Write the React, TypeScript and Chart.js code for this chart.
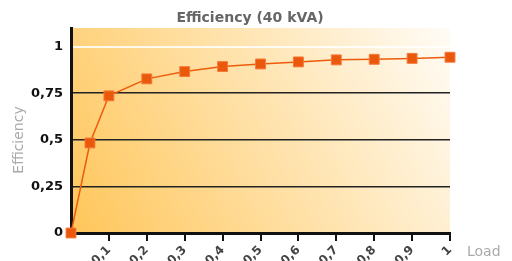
import React, { useEffect, useRef } from "react";
import { Chart, registerables } from "chart.js";

Chart.register(...registerables);

const loads = [0, 0.05, 0.1, 0.2, 0.3, 0.4, 0.5, 0.6, 0.7, 0.8, 0.9, 1.0];
const efficiency = [0, 0.483, 0.736, 0.827, 0.866, 0.893, 0.907, 0.918, 0.929, 0.932, 0.937, 0.943];
const xTickValues = [0, 0.1, 0.2, 0.3, 0.4, 0.5, 0.6, 0.7, 0.8, 0.9, 1.0];
const yTickValues = [0, 0.25, 0.5, 0.75, 1];
const titleText = "Efficiency (40 kVA)";
const xTitle = "Load";
const yTitle = "Efficiency";

const fmt = (v: number) => String(Math.round(v * 100) / 100).replace(".", ",");

const bgPlugin = {
  id: "bg",
  beforeDraw(chart: any) {
    const { ctx, chartArea: a } = chart;
    const g = ctx.createLinearGradient(a.left, a.bottom, a.right, a.top);
    g.addColorStop(0, "#ffc65a");
    g.addColorStop(1, "#fffcf6");
    ctx.save();
    ctx.fillStyle = g;
    ctx.fillRect(a.left, a.top, a.right - a.left, a.bottom - a.top);
    ctx.restore();
  },
  afterDraw(chart: any) {
    const { ctx } = chart;
    ctx.save();
    ctx.fillStyle = "#666";
    ctx.font = "bold 14px 'DejaVu Sans'";
    ctx.textAlign = "center";
    ctx.textBaseline = "middle";
    ctx.fillText(titleText, 250, 18);
    ctx.fillStyle = "#aaa";
    ctx.font = "14px 'DejaVu Sans'";
    ctx.textAlign = "left";
    ctx.fillText(xTitle, 467, 252);
    ctx.translate(19, 140);
    ctx.rotate(-Math.PI / 2);
    ctx.textAlign = "center";
    ctx.fillText(yTitle, 0, 0);
    ctx.restore();
  },
};

export default function App() {
  const ref = useRef<HTMLCanvasElement>(null);
  useEffect(() => {
    document.body.style.margin = "0";
    const chart = new Chart(ref.current!, {
      type: "line",
      data: {
        datasets: [
          {
            data: loads.map((x, i) => ({ x, y: efficiency[i] })),
            borderColor: "#ee5b0c",
            borderWidth: 1.5,
            backgroundColor: "#ea580c",
            pointBorderColor: "#f47a3a",
            pointBorderWidth: 1,
            pointStyle: "rect",
            pointRadius: 7,
            pointHoverRadius: 7,
            clip: false as any,
            tension: 0,
          },
        ],
      },
      options: {
        animation: false,
        responsive: false,
        layout: { padding: { top: 28, right: 62, left: 8, bottom: 0 } },
        plugins: { legend: { display: false }, tooltip: { enabled: false }, title: { display: false } },
        scales: {
          x: {
            type: "linear",
            min: 0,
            max: 1,
            afterBuildTicks: (s: any) => {
              s.ticks = xTickValues.map((v) => ({ value: v }));
            },
            afterFit: (s: any) => {
              s.height = 28;
            },
            border: { display: true, color: "#111", width: 3 },
            grid: {
              display: true,
              drawOnChartArea: false,
              drawTicks: true,
              tickLength: 8,
              tickColor: xTickValues.map((v) => (v === 0 ? "rgba(0,0,0,0)" : "#111")),
              tickWidth: 2,
              color: "#111",
              lineWidth: 2,
            },
            ticks: {
              autoSkip: false,
              maxRotation: 45,
              minRotation: 45,
              padding: 2,
              color: "#444",
              font: { family: "'DejaVu Sans'", size: 12, weight: "bold" },
              callback: (v: any) => (v === 0 ? "" : fmt(Number(v))),
            },
          },
          y: {
            min: 0,
            max: 1.1,
            afterBuildTicks: (s: any) => {
              s.ticks = yTickValues.map((v) => ({ value: v }));
            },
            afterFit: (s: any) => {
              s.width = 63;
            },
            border: { display: true, color: "#111", width: 3 },
            grid: {
              drawTicks: false,
              color: (c: any) =>
                c.tick && c.tick.value === 1 ? "rgba(255,255,255,0.85)" : "#222",
              lineWidth: (c: any) => (c.tick && c.tick.value === 1 ? 2 : 1.5),
            },
            ticks: {
              padding: 8,
              color: "#111",
              font: { family: "'DejaVu Sans'", size: 13, weight: "bold" },
              callback: (v: any) => fmt(Number(v)),
            },
          },
        },
      },
      plugins: [bgPlugin],
    });
    return () => chart.destroy();
  }, []);
  return (
    <div style={{ width: 512, height: 261 }}>
      <canvas ref={ref} width={512} height={261} style={{ display: "block" }} />
    </div>
  );
}
